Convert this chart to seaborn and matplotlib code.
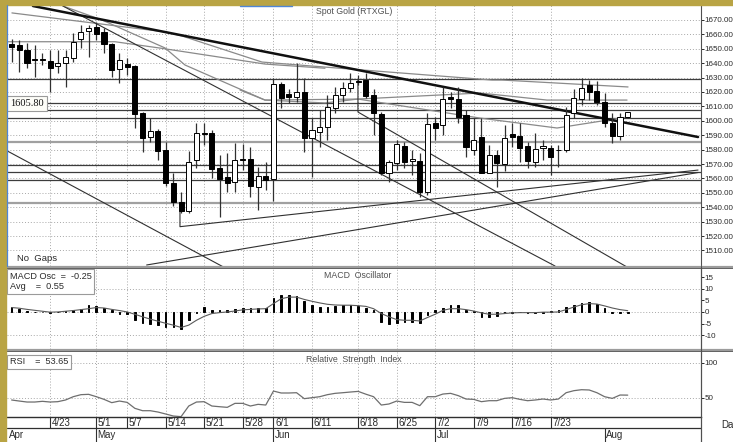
import numpy as np
import pandas as pd
import matplotlib
matplotlib.use("Agg")
import matplotlib.pyplot as plt
from matplotlib.patches import Rectangle
from matplotlib.lines import Line2D
from matplotlib import font_manager
import seaborn as sns

sns.set_style("white")
plt.rcParams['font.family'] = ['Liberation Sans', 'DejaVu Sans']

# ---------------- data ----------------
opens = [1653.3, 1652.6, 1649.4, 1642.4, 1643.0, 1641.5, 1638.1, 1640.4, 1643.9, 1656.6,
         1662.4, 1665.4, 1661.4, 1653.1, 1635.7, 1639.4, 1638.3, 1605.2, 1589.0, 1592.9,
         1579.7, 1557.0, 1543.8, 1537.6, 1572.8, 1591.3, 1591.3, 1567.0, 1560.8, 1557.7,
         1573.8, 1573.5, 1553.8, 1561.5, 1559.5, 1625.3, 1618.6, 1616.3, 1619.8, 1588.3,
         1592.0, 1595.9, 1608.6, 1617.9, 1622.5, 1627.8, 1628.3, 1617.9, 1604.5, 1563.5,
         1570.9, 1582.7, 1572.1, 1572.3, 1550.3, 1598.7, 1597.1, 1616.8, 1614.9, 1604.0,
         1579.7, 1589.0, 1564.0, 1576.3, 1570.0, 1590.6, 1589.4, 1582.5, 1571.6, 1580.9,
         1580.9, 1579.5, 1579.7, 1605.2, 1615.1, 1624.9, 1620.7, 1613.3, 1598.2, 1589.4,
         1602.4]
highs = [1656.8, 1656.1, 1653.8, 1652.6, 1647.0, 1649.2, 1649.2, 1649.2, 1660.7, 1666.5,
         1666.5, 1668.8, 1664.2, 1653.8, 1646.9, 1643.4, 1638.8, 1605.9, 1601.7, 1594.1,
         1585.5, 1563.5, 1550.8, 1579.2, 1598.3, 1598.3, 1593.6, 1576.0, 1577.4, 1584.4,
         1584.0, 1582.0, 1568.0, 1571.6, 1629.5, 1627.2, 1622.1, 1640.0, 1629.5, 1601.7,
         1607.5, 1617.9, 1623.7, 1627.2, 1633.0, 1632.0, 1633.0, 1621.9, 1606.3, 1572.8,
         1586.7, 1585.5, 1579.7, 1577.4, 1605.2, 1602.9, 1623.7, 1620.2, 1623.7, 1607.5,
         1601.7, 1601.7, 1583.2, 1579.7, 1597.1, 1598.2, 1598.2, 1585.5, 1591.3, 1586.7,
         1583.2, 1583.2, 1609.8, 1621.9, 1629.5, 1628.3, 1627.9, 1619.1, 1605.2, 1605.6,
         1606.3]
lows = [1641.1, 1634.1, 1636.4, 1630.7, 1639.0, 1620.2, 1633.0, 1623.7, 1641.1, 1650.3,
        1644.5, 1656.1, 1646.9, 1630.7, 1626.0, 1631.8, 1594.8, 1578.6, 1585.5, 1572.8,
        1555.0, 1540.8, 1535.8, 1536.2, 1567.0, 1583.2, 1560.0, 1533.0, 1550.8, 1550.8,
        1566.0, 1547.3, 1538.0, 1552.0, 1544.5, 1608.7, 1612.2, 1612.8, 1578.5, 1561.2,
        1582.0, 1586.7, 1605.2, 1613.3, 1620.2, 1624.9, 1616.0, 1590.1, 1562.4, 1557.7,
        1565.8, 1567.0, 1562.4, 1547.3, 1548.5, 1586.7, 1590.1, 1608.6, 1598.2, 1575.1,
        1576.3, 1563.5, 1563.5, 1554.3, 1565.4, 1582.0, 1571.6, 1567.0, 1568.2, 1572.8,
        1562.4, 1568.2, 1578.6, 1601.7, 1611.0, 1614.4, 1611.0, 1595.9, 1584.4, 1586.7,
        1601.7]
closes = [1651.5, 1649.4, 1639.9, 1642.2, 1642.5, 1636.9, 1640.4, 1644.1, 1654.9, 1661.4,
          1664.2, 1660.3, 1653.1, 1635.3, 1642.2, 1637.1, 1604.5, 1588.3, 1592.9, 1579.3,
          1556.5, 1543.8, 1537.6, 1571.6, 1591.3, 1590.6, 1566.5, 1559.4, 1556.6, 1572.8,
          1573.0, 1554.9, 1561.7, 1558.9, 1625.6, 1616.0, 1616.3, 1619.8, 1588.3, 1593.6,
          1595.9, 1609.3, 1617.9, 1622.5, 1626.5, 1627.2, 1617.5, 1605.2, 1563.5, 1571.6,
          1583.9, 1571.6, 1573.5, 1550.8, 1597.8, 1595.2, 1614.9, 1615.1, 1602.9, 1582.0,
          1586.7, 1564.0, 1576.3, 1570.9, 1588.3, 1588.5, 1580.9, 1572.3, 1580.2, 1582.5,
          1575.1, 1580.0, 1604.0, 1615.6, 1622.5, 1620.2, 1613.3, 1598.2, 1589.4, 1602.4,
          1605.8]

macd_osc = [2.1, 1.4, 0.3, 0.1, 0.1, -0.3, 0.1, 0.2, 1.0, 1.4,
            2.9, 2.6, 1.7, 0.7, -0.7, -1.0, -3.3, -4.7, -5.0, -5.7,
            -6.4, -6.7, -7.2, -3.6, -0.3, 2.1, 1.0, 0.7, 0.7, 1.1,
            1.9, 1.7, 1.7, 1.7, 6.2, 7.4, 7.4, 6.7, 4.7, 2.9,
            2.1, 2.1, 2.4, 2.9, 2.9, 2.6, 1.7, 0.7, -4.3, -5.0,
            -4.6, -4.3, -4.3, -4.7, -1.4, 0.7, 1.7, 3.1, 2.9, 1.0,
            0.3, -2.1, -2.1, -1.6, -0.4, -0.4, 0.0, -0.4, -0.3, -0.3,
            0.2, 0.8, 2.1, 2.9, 4.0, 4.3, 3.6, 1.7, -0.3, -0.3,
            -0.25]
macd_avg = [1.9, 1.6, 1.1, 0.7, 0.3, -0.1, 0.0, 0.3, 0.6, 1.0,
            1.4, 1.9, 1.7, 1.1, 0.6, 0.0, -1.0, -2.1, -3.1, -4.0,
            -4.9, -5.7, -6.7, -5.7, -3.6, -1.9, -0.7, -0.3, 0.0, 0.4,
            0.9, 1.1, 1.3, 1.4, 3.6, 5.7, 6.4, 6.4, 5.4, 4.6,
            3.9, 3.3, 3.0, 2.9, 2.9, 2.7, 2.4, 1.4, -0.7, -2.1,
            -3.3, -3.6, -3.6, -3.9, -2.4, -1.0, 0.7, 1.4, 1.4, 1.0,
            0.4, -0.4, -1.0, -1.0, -0.7, -0.4, -0.3, -0.3, -0.3, -0.1,
            -0.1, 0.0, 1.0, 2.1, 3.1, 3.6, 3.4, 2.6, 1.7, 1.0,
            0.55]
rsi = [46.7, 45.2, 43.8, 43.8, 44.8, 43.8, 44.3, 46.7, 51.4, 54.3,
       54.8, 51.4, 47.6, 42.9, 45.2, 43.3, 34.8, 31.4, 31.4, 29.5,
       26.7, 23.8, 22.9, 38.1, 43.8, 44.3, 38.1, 37.1, 36.2, 41.9,
       41.9, 38.1, 40.5, 39.5, 59.5, 56.7, 56.7, 57.1, 48.6, 50.0,
       51.4, 54.3, 56.2, 57.1, 58.1, 59.0, 55.0, 51.4, 39.5, 41.0,
       45.2, 43.3, 43.3, 38.6, 51.4, 51.4, 55.2, 56.2, 52.9, 48.1,
       47.6, 44.3, 45.7, 45.7, 49.0, 50.0, 47.6, 45.7, 46.7, 48.1,
       46.7, 48.1, 57.1, 60.0, 61.4, 61.0, 57.1, 51.4, 49.0, 53.8,
       53.65]

day_tick_pos = [5, 11, 15, 20, 25, 30, 34, 39, 45, 50, 55, 60, 65, 70]
day_tick_labels = ["4/23", "5/1", "5/7", "5/14", "5/21", "5/28", "6/1", "6/11",
                   "6/18", "6/25", "7/2", "7/9", "7/16", "7/23"]
month_pos = [11, 34, 55, 77]
month_labels = ["May", "Jun", "Jul", "Aug"]

hlines_dark = [1628.8, 1612.1, 1607.5, 1601.7, 1569.3, 1564.2, 1558.9]
hlines_light = [1585.3, 1542.7]

trend_thick = [(2.77, 1679.7), (89.13, 1588.75)]
trend_thin = [
    [(6.66, 1679.7), (70.56, 1499.2)],
    [(44.97, 1628.3), (44.97, 1606.1), (79.9, 1498.5)],
    [(-0.61, 1579.2), (27.44, 1498.7)],
    [(17.53, 1499.9), (89.13, 1564.1)],
    [(21.86, 1536.9), (21.86, 1526.5), (89.13, 1565.8)],
]
ma_lines = [
    [(0.04, 1674.9), (19.91, 1661.7), (22.12, 1658.9), (32.51, 1640.8), (40.69, 1637.3),
     (62.38, 1628.3), (63.68, 1628.3), (80.04, 1623.5)],
    [(-0.61, 1654.9), (13.42, 1654.9), (19.52, 1650.3), (32.9, 1639.4), (40.69, 1636.5)],
    [(6.66, 1679.7), (11.73, 1670.0), (19.91, 1650.6), (22.51, 1638.75), (32.9, 1614.4),
     (40.69, 1612.4), (44.97, 1615.1), (60.82, 1619.3), (69.52, 1614.4), (79.91, 1614.4)],
    [(29.65, 1621.4), (32.9, 1614.4), (44.97, 1615.1), (60.82, 1601.9), (70.82, 1595.0),
     (79.91, 1602.6)],
]

# ---------------- fonts ----------------
installed = {f.name for f in font_manager.fontManager.ttflist}
HAS_NARROW = "Liberation Sans Narrow" in installed
axis_family = "Liberation Sans Narrow" if HAS_NARROW else "Liberation Sans"
axis_size = 7.0 if HAS_NARROW else 5.8

# ---------------- layout ----------------
W, H = 733, 442
fig = plt.figure(figsize=(W / 100, H / 100), dpi=100)
fig.patch.set_facecolor("white")


def fx(px):
    return px / W


def fy(py):
    return 1 - py / H


L, R = 7, 700.5
ax_p = fig.add_axes([fx(L), fy(266), fx(R) - fx(L), fy(5) - fy(266)])
ax_m = fig.add_axes([fx(L), fy(349), fx(R) - fx(L), fy(268.5) - fy(349)])
ax_r = fig.add_axes([fx(L), fy(417), fx(R) - fx(L), fy(351.5) - fy(417)])
ax_d = fig.add_axes([fx(L), 0, fx(R) - fx(L), fy(417)])

XLIM = (-0.6, 89.45)
idx = np.arange(len(closes))
grid_kw = dict(color="#a8a8a8", lw=0.7, ls=(0, (1, 2)), zorder=0)
txt = "#2a2a2a"

for ax in (ax_p, ax_m, ax_r, ax_d):
    ax.set_xlim(*XLIM)
    ax.set_facecolor("white")
    for s in ("top", "left", "bottom"):
        ax.spines[s].set_visible(False)
    ax.spines["right"].set_color("#505050")
    ax.spines["right"].set_linewidth(0.8)
    ax.set_xticks([])

for ax in (ax_p, ax_m, ax_r):
    for p in day_tick_pos:
        ax.axvline(p, **grid_kw)


def style_right_ticks(ax, ticks, labels):
    ax.yaxis.tick_right()
    ax.set_yticks(ticks)
    ax.set_yticklabels(labels)
    ax.tick_params(axis="y", length=2, width=0.7, pad=0.8, labelsize=axis_size,
                   colors=txt, direction="out", labelfontfamily=axis_family)


# ---------------- price panel ----------------
ax_p.set_ylim(1499.2, 1680.4)
price_ticks = list(range(1510, 1671, 10))
for v in price_ticks:
    ax_p.axhline(v, **grid_kw)
for v in hlines_dark:
    ax_p.axhline(v, color="#3c3c3c", lw=0.9, zorder=1)
for v in hlines_light:
    ax_p.axhline(v, color="#a0a0a0", lw=1.6, zorder=1)

for ln in ma_lines:
    xs, ys = zip(*ln)
    ax_p.plot(xs, ys, color="#8a8a8a", lw=0.9, zorder=2)
for ln in trend_thin:
    xs, ys = zip(*ln)
    ax_p.plot(xs, ys, color="#303030", lw=0.8, zorder=2)
xs, ys = zip(*trend_thick)
ax_p.plot(xs, ys, color="#101010", lw=1.8, zorder=2)

o = np.array(opens); c = np.array(closes); h = np.array(highs); lo = np.array(lows)
up = c >= o
ax_p.vlines(idx, lo, h, color="#303030", lw=0.9, zorder=3)
body_bottom = np.minimum(o, c)
body_h = np.maximum(np.abs(c - o), 0.55)
ax_p.bar(idx[up], body_h[up], bottom=body_bottom[up], width=0.66,
         color="white", edgecolor="black", linewidth=0.7, zorder=4)
ax_p.bar(idx[~up], body_h[~up], bottom=body_bottom[~up], width=0.66,
         color="black", edgecolor="black", linewidth=0.7, zorder=4)

style_right_ticks(ax_p, price_ticks, [f"{v:.2f}" for v in price_ticks])

ax_p.text(0.5, 0.975, "Spot Gold (RTXGL)", transform=ax_p.transAxes, ha="center",
          va="center", fontsize=6.3, color="#505050")
ax_p.text(0.0145, 0.027, "No  Gaps", transform=ax_p.transAxes, ha="left",
          va="center", fontsize=6.8, color=txt)
ax_p.text(0.005, 0.6226, "1605.80", transform=ax_p.transAxes, ha="left", va="center",
          fontsize=7.5, family=["Liberation Serif", "DejaVu Serif"], color="#111",
          bbox=dict(boxstyle="square,pad=0.3", fc="#fdfdf8", ec="#9a9a9a", lw=0.8),
          zorder=10)

# ---------------- MACD panel ----------------
ax_m.set_ylim(-16.0, 18.75)
for v in (10, 0, -10):
    ax_m.axhline(v, **grid_kw)
ax_m.bar(idx, macd_osc, width=0.22, color="black", edgecolor="black",
         linewidth=0.7, zorder=3)
sns.lineplot(x=idx, y=macd_avg, ax=ax_m, color="#5a5a5a", lw=0.8, zorder=4)
ax_m.set_xlim(*XLIM)
ax_m.set_ylabel("")
macd_ticks = [15, 10, 5, 0, -5, -10]
style_right_ticks(ax_m, macd_ticks, [str(v) for v in macd_ticks])
ax_m.text(0.506, 0.91, "MACD  Oscillator", transform=ax_m.transAxes, ha="center",
          va="center", fontsize=6.3, color="#505050")
ax_m.text(0.004, 0.84, "MACD Osc  =  -0.25\nAvg    =  0.55", transform=ax_m.transAxes,
          ha="left", va="center", fontsize=6.6, color=txt, linespacing=1.25,
          bbox=dict(boxstyle="square,pad=0.3", fc="white", ec="#9a9a9a", lw=0.8),
          zorder=10)

# ---------------- RSI panel ----------------
ax_r.set_ylim(22.4, 116.0)
for v in (100, 50):
    ax_r.axhline(v, **grid_kw)
sns.lineplot(x=idx, y=rsi, ax=ax_r, color="#6e6e6e", lw=0.9, zorder=3)
ax_r.set_xlim(*XLIM)
ax_r.set_ylabel("")
style_right_ticks(ax_r, [100, 50], ["100", "50"])
ax_r.text(0.50, 0.88, "Relative  Strength  Index", transform=ax_r.transAxes,
          ha="center", va="center", fontsize=6.3, color="#505050")
ax_r.text(0.004, 0.84, "RSI    =  53.65", transform=ax_r.transAxes, ha="left",
          va="center", fontsize=6.6, color=txt,
          bbox=dict(boxstyle="square,pad=0.3", fc="white", ec="#9a9a9a", lw=0.8),
          zorder=10)

# ---------------- date strip ----------------
ax_d.set_ylim(0, 1)
ax_d.set_yticks([])
ax_d.spines["top"].set_visible(True)
ax_d.spines["top"].set_color("#303030")
ax_d.spines["top"].set_linewidth(1.0)
ax_d.axhline(0.56, color="#303030", lw=0.9)
ax_d.vlines(day_tick_pos, 0.56, 1.0, color="#303030", lw=0.8)
for p, lab in zip(day_tick_pos, day_tick_labels):
    ax_d.text(p + 0.2, 0.77, lab, ha="left", va="center", fontsize=7, color=txt)
ax_d.vlines(month_pos, 0.0, 0.56, color="#303030", lw=0.8)
ax_d.text(-0.3, 0.27, "Apr", ha="left", va="center", fontsize=7, color=txt)
for p, lab in zip(month_pos, month_labels):
    ax_d.text(p + 0.15, 0.27, lab, ha="left", va="center", fontsize=7, color=txt)

fig.text(fx(721), fy(425), "Date", ha="left", va="center", fontsize=7, color=txt)

# ---------------- frame decorations ----------------
olive = "#b9a444"
fig.add_artist(Rectangle((0, fy(5)), 1, 1 - fy(5), transform=fig.transFigure,
                         color=olive, zorder=20))
fig.add_artist(Rectangle((0, 0), fx(6), 1, transform=fig.transFigure,
                         color=olive, zorder=20))
fig.add_artist(Line2D([fx(6.6), fx(6.6)], [fy(266), fy(5)], transform=fig.transFigure,
                      color="#4f86d6", lw=0.9, zorder=21))
fig.add_artist(Line2D([fx(240), fx(292)], [fy(5.5), fy(5.5)], transform=fig.transFigure,
                      color="#4f86d6", lw=1.0, zorder=21))
for y0 in (266.5, 349.5):
    fig.add_artist(Line2D([fx(6), 1], [fy(y0), fy(y0)], transform=fig.transFigure,
                          color="#9c9c9c", lw=1.6, zorder=15))
    fig.add_artist(Line2D([fx(6), 1], [fy(y0 + 1.6), fy(y0 + 1.6)],
                          transform=fig.transFigure, color="#606060", lw=0.7, zorder=15))
fig.add_artist(Line2D([fx(R), fx(R)], [0, fy(266)], transform=fig.transFigure,
                      color="#505050", lw=0.8, zorder=15))

fig.savefig("out.png", dpi=100, facecolor="white")
